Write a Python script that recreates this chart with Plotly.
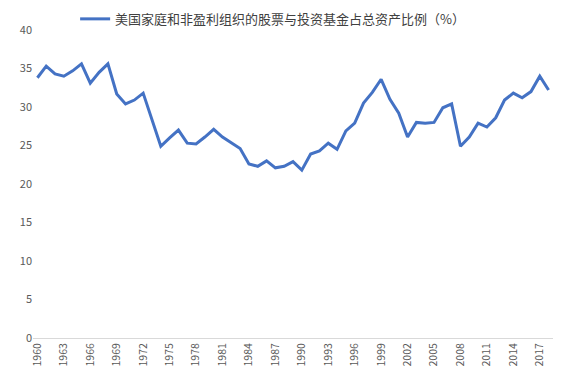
import plotly.graph_objects as go

years = list(range(1960, 2019))
values = [33.8, 35.3, 34.3, 34.0, 34.7, 35.6, 33.1, 34.5, 35.6, 31.7,
          30.4, 30.9, 31.8, 28.4, 24.9, 26.0, 27.0, 25.3, 25.2, 26.1,
          27.1, 26.1, 25.3, 24.6, 22.6, 22.3, 23.0, 22.1, 22.3, 22.9,
          21.8, 23.9, 24.3, 25.3, 24.5, 26.9, 27.9, 30.5, 31.9, 33.6,
          31.0, 29.2, 26.1, 28.0, 27.9, 28.0, 29.9, 30.4, 24.9, 26.1,
          27.9, 27.4, 28.6, 30.9, 31.8, 31.2, 32.0, 34.0, 32.2]
series_name = "美国家庭和非盈利组织的股票与投资基金占总资产比例（%）"
x_ticks = list(range(1960, 2019, 3))
y_ticks = list(range(0, 41, 5))

font_family = "Noto Sans CJK SC, Noto Sans, sans-serif"

fig = go.Figure()
fig.add_trace(go.Scatter(
    x=years, y=values, mode="lines", name=series_name,
    line=dict(color="#4472C4", width=3),
))

# page body has an 8px margin, so the figure is sized/offset to compensate
fig.update_layout(
    width=557, height=371,
    margin=dict(l=25, r=12, t=22, b=41, autoexpand=False),
    paper_bgcolor="white", plot_bgcolor="white",
    font=dict(family=font_family, size=11, color="#595959"),
    showlegend=True,
    legend=dict(orientation="h", x=0.081, y=1.036, xanchor="left", yanchor="middle",
                font=dict(size=13, color="#404040"), itemwidth=30,
                bgcolor="rgba(0,0,0,0)"),
    xaxis=dict(range=[1959.5, 2018.5], tickmode="array", tickvals=x_ticks,
               ticktext=[str(v) for v in x_ticks], tickangle=-90,
               showgrid=False, zeroline=False, showline=True,
               linecolor="#D9D9D9", linewidth=1, ticks="",
               tickfont=dict(size=10.5, color="#595959")),
    yaxis=dict(range=[0, 40], tickmode="array", tickvals=y_ticks,
               showgrid=False, zeroline=False, showline=False, ticks="",
               tickfont=dict(size=11, color="#595959")),
)

fig.write_html("out.html")
